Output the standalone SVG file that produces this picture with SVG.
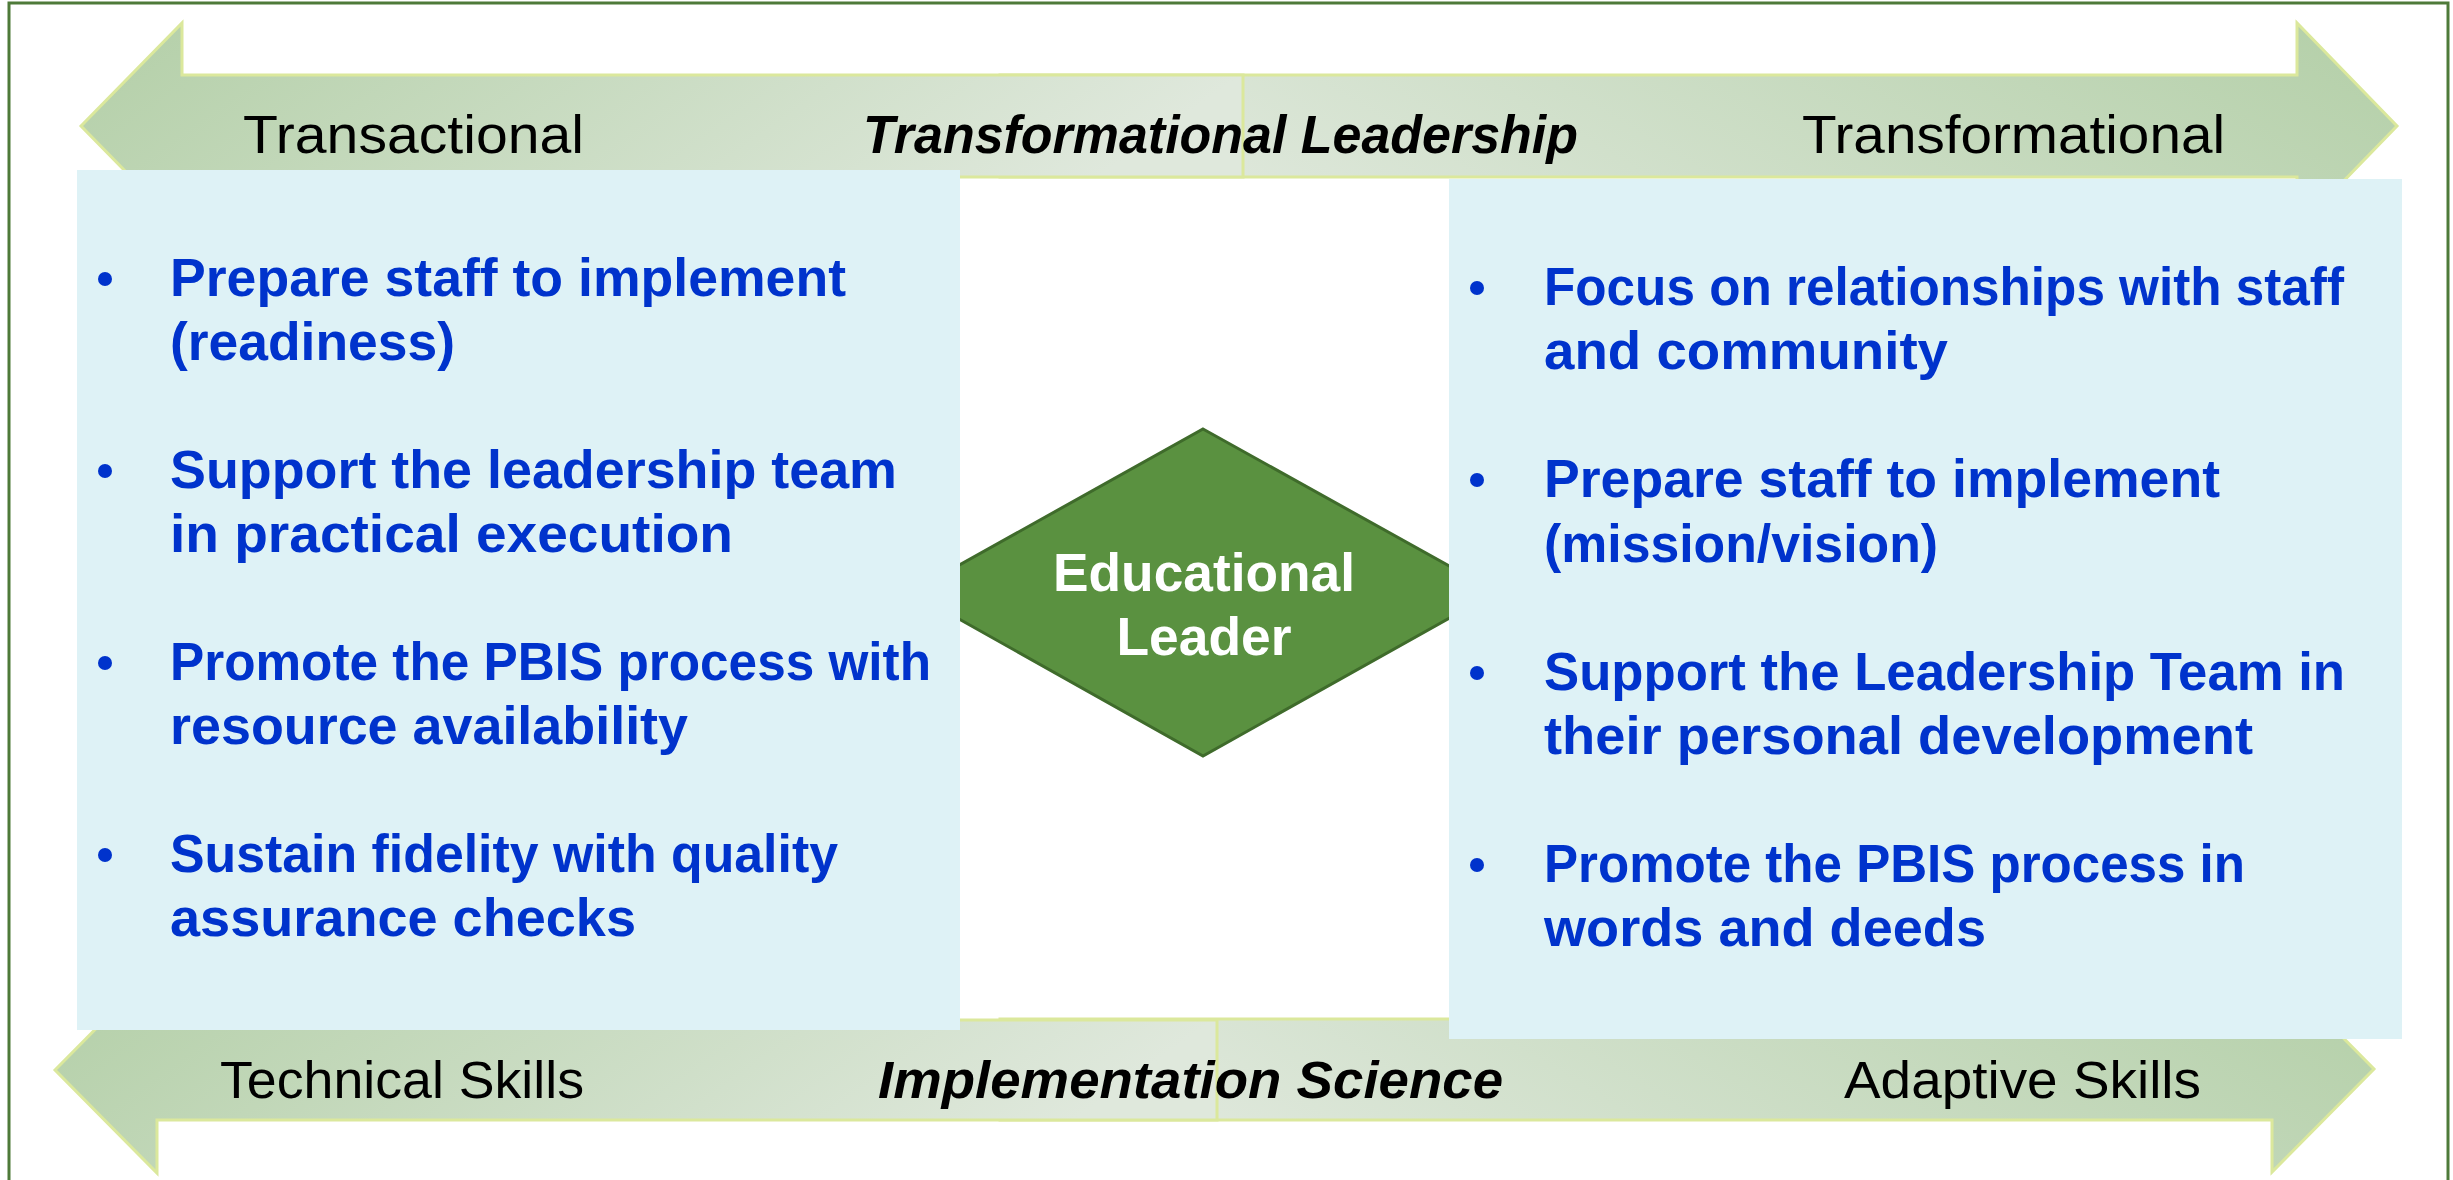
<svg xmlns="http://www.w3.org/2000/svg" width="2453" height="1180" viewBox="0 0 2453 1180">
  <defs>
    <linearGradient id="gradL" x1="0" y1="0" x2="1" y2="0.25">
      <stop offset="0" stop-color="#b3cfa7"/>
      <stop offset="1" stop-color="#dfe8dc"/>
    </linearGradient>
    <linearGradient id="gradR" x1="1" y1="0" x2="0" y2="0.25">
      <stop offset="0" stop-color="#b3cfa7"/>
      <stop offset="1" stop-color="#dfe8dc"/>
    </linearGradient>
  </defs>
  <style>
    .frame { fill: #ffffff; stroke: #4e7a39; stroke-width: 3; }
    .arrowL { fill: url(#gradL); stroke: #dbe89c; stroke-width: 3; stroke-linejoin: miter; }
    .arrowR { fill: url(#gradR); stroke: #dbe89c; stroke-width: 3; stroke-linejoin: miter; }
    .panel { fill: #def2f6; }
    .hub { fill: #5a9140; stroke: #3f6b2b; stroke-width: 3; }
    .hubtxt { font-family: "Liberation Sans", Arial, sans-serif; font-weight: bold; font-size: 54px; fill: #ffffff; text-anchor: middle; }
    .axis { font-family: "Liberation Sans", Arial, sans-serif; font-size: 53px; fill: #000000; }
    .axisB { font-family: "Liberation Sans", Arial, sans-serif; font-size: 51px; fill: #000000; }
    .title { font-weight: bold; font-style: italic; }
    .item { font-family: "Liberation Sans", Arial, sans-serif; font-weight: bold; font-size: 53px; fill: #0033cc; }
    .dot { fill: #0033cc; }
  </style>

  <!-- outer frame -->
  <rect class="frame" x="9" y="3" width="2439" height="1200"/>

  <!-- axis arrows (drawn as connectors between the two poles) -->
  <g id="connectors">
    <polygon class="arrowR" points="1000,75 2297,75 2297,23 2397,126 2297,229 2297,177 1000,177"/>
    <polygon class="arrowL" points="81,126 182,23 182,75 1243,75 1243,177 182,177 182,229"/>
    <polygon class="arrowR" points="1000,1019 2272,1019 2272,966 2374,1069 2272,1172 2272,1120 1000,1120"/>
    <polygon class="arrowL" points="55,1070 157,967 157,1020 1217,1020 1217,1120 157,1120 157,1173"/>
  </g>

  <!-- axis labels -->
  <g id="axis-top">
    <text class="axis" x="243" y="153" textLength="341" lengthAdjust="spacingAndGlyphs">Transactional</text>
    <text class="axis title" x="863" y="153" textLength="715" lengthAdjust="spacingAndGlyphs">Transformational Leadership</text>
    <text class="axis" x="1802" y="153" textLength="423" lengthAdjust="spacingAndGlyphs">Transformational</text>
  </g>
  <g id="axis-bottom">
    <text class="axisB" x="220" y="1098" textLength="364" lengthAdjust="spacingAndGlyphs">Technical Skills</text>
    <text class="axisB title" x="878" y="1098" textLength="625" lengthAdjust="spacingAndGlyphs">Implementation Science</text>
    <text class="axisB" x="1844" y="1098" textLength="357" lengthAdjust="spacingAndGlyphs">Adaptive Skills</text>
  </g>

  <!-- central hub -->
  <g id="educational-leader">
    <polygon class="hub" points="1203,429 1496,592 1203,756 911,592"/>
    <text class="hubtxt" x="1204" y="591" textLength="302" lengthAdjust="spacingAndGlyphs">Educational</text>
    <text class="hubtxt" x="1204" y="655" textLength="175" lengthAdjust="spacingAndGlyphs">Leader</text>
  </g>

  <!-- left panel: transactional / technical -->
  <g id="panel-left">
    <rect class="panel" x="77" y="170" width="883" height="860"/>
    <circle class="dot" cx="105" cy="279" r="7"/>
    <circle class="dot" cx="105" cy="471" r="7"/>
    <circle class="dot" cx="105" cy="663" r="7"/>
    <circle class="dot" cx="105" cy="855" r="7"/>
    <text class="item" x="170" y="296" textLength="676" lengthAdjust="spacingAndGlyphs">Prepare staff to implement</text>
    <text class="item" x="170" y="360" textLength="285" lengthAdjust="spacingAndGlyphs">(readiness)</text>
    <text class="item" x="170" y="488" textLength="727" lengthAdjust="spacingAndGlyphs">Support the leadership team</text>
    <text class="item" x="170" y="552" textLength="563" lengthAdjust="spacingAndGlyphs">in practical execution</text>
    <text class="item" x="170" y="680" textLength="761" lengthAdjust="spacingAndGlyphs">Promote the PBIS process with</text>
    <text class="item" x="170" y="744" textLength="518" lengthAdjust="spacingAndGlyphs">resource availability</text>
    <text class="item" x="170" y="872" textLength="668" lengthAdjust="spacingAndGlyphs">Sustain fidelity with quality</text>
    <text class="item" x="170" y="936" textLength="466" lengthAdjust="spacingAndGlyphs">assurance checks</text>
  </g>

  <!-- right panel: transformational / adaptive -->
  <g id="panel-right">
    <rect class="panel" x="1449" y="179" width="953" height="860"/>
    <circle class="dot" cx="1477" cy="288" r="7"/>
    <circle class="dot" cx="1477" cy="480" r="7"/>
    <circle class="dot" cx="1477" cy="673" r="7"/>
    <circle class="dot" cx="1477" cy="865" r="7"/>
    <text class="item" x="1544" y="305" textLength="800" lengthAdjust="spacingAndGlyphs">Focus on relationships with staff</text>
    <text class="item" x="1544" y="369" textLength="404" lengthAdjust="spacingAndGlyphs">and community</text>
    <text class="item" x="1544" y="497" textLength="676" lengthAdjust="spacingAndGlyphs">Prepare staff to implement</text>
    <text class="item" x="1544" y="562" textLength="394" lengthAdjust="spacingAndGlyphs">(mission/vision)</text>
    <text class="item" x="1544" y="690" textLength="801" lengthAdjust="spacingAndGlyphs">Support the Leadership Team in</text>
    <text class="item" x="1544" y="754" textLength="709" lengthAdjust="spacingAndGlyphs">their personal development</text>
    <text class="item" x="1544" y="882" textLength="701" lengthAdjust="spacingAndGlyphs">Promote the PBIS process in</text>
    <text class="item" x="1544" y="946" textLength="442" lengthAdjust="spacingAndGlyphs">words and deeds</text>
  </g>
</svg>
